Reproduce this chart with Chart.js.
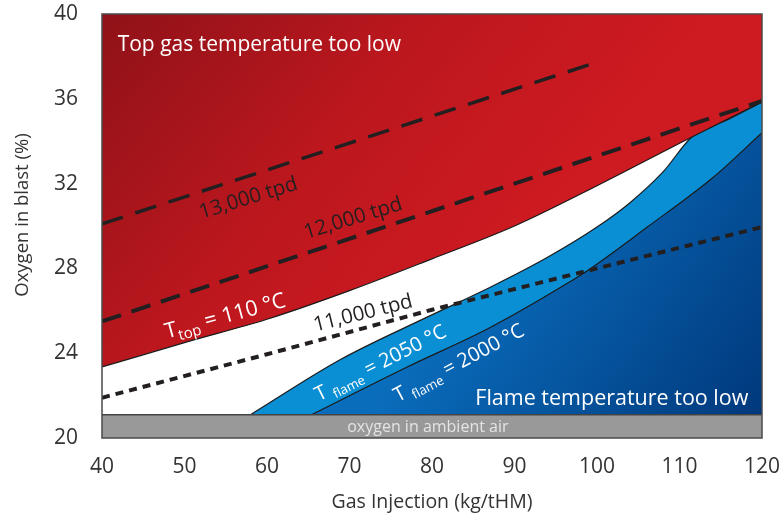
<!DOCTYPE html>
<html>
<head>
<meta charset="utf-8">
<script src="https://cdn.jsdelivr.net/npm/chart.js@4.4.1/dist/chart.umd.min.js"></script>
<style>
  html, body { margin: 0; padding: 0; background: #fff; }
</style>
</head>
<body>
<canvas id="chart" width="783" height="521"></canvas>
<script>
// axis ticks
const xTicks = [40, 50, 60, 70, 80, 90, 100, 110, 120];
const yTicks = [20, 24, 28, 32, 36, 40];

// T_top = 110 °C boundary (red region above it)
const topX = [40, 50, 60, 70, 80, 90, 100, 111.5, 120];
const topY = [23.35, 24.5, 25.6, 26.95, 28.45, 30.0, 31.9, 34.2, 35.85];

// T_flame = 2050 °C boundary (light blue below it)
const flame2050X = [58.0, 68.8, 79.4, 87.0, 93.9, 100, 104, 108, 111.5, 116, 120];
const flame2050Y = [21.1, 23.68, 25.7, 27.1, 28.5, 29.95, 31.1, 32.55, 34.2, 35.05, 35.85];

// T_flame = 2000 °C boundary (dark blue below it)
const flame2000X = [65.4, 77.0, 87.0, 96.0, 99.5, 106.1, 114.1, 120];
const flame2000Y = [21.1, 23.35, 25.2, 27.2, 28.07, 29.95, 32.3, 34.4];

// production lines
const tpd13X = [40, 99];
const tpd13Y = [30.1, 37.6];
const tpd12X = [40, 120];
const tpd12Y = [25.5, 35.9];
const tpd11X = [40, 60, 80, 100, 120];
const tpd11Y = [21.9, 23.95, 26.05, 28.0, 29.95];

// oxygen in ambient air
const airX = [40, 120];
const airY = [21.1, 21.1];

const FONT = '"Open Sans", sans-serif';
const pts = (xs, ys) => xs.map((x, i) => ({ x: x, y: ys[i] }));

function redFill(context) {
  const chart = context.chart;
  const a = chart.chartArea;
  if (!a) return '#c4181f';
  const g = chart.ctx.createLinearGradient(a.left, a.top, a.left + 360, a.top + 300);
  g.addColorStop(0, '#8f1218');
  g.addColorStop(0.55, '#bd171e');
  g.addColorStop(1, '#ce1a21');
  return g;
}

function blueFill(context) {
  const chart = context.chart;
  const a = chart.chartArea;
  if (!a) return '#0057a3';
  const g = chart.ctx.createLinearGradient(a.left + 380, a.top + 230, a.right, a.bottom);
  g.addColorStop(0, '#0a6dbc');
  g.addColorStop(1, '#003679');
  return g;
}

// texts drawn on the plot
const labels = [
  { x: 41.9, y: 38.63, align: 'left', angle: 0, color: '#fff', parts: [{ t: 'Top gas temperature too low', size: 21 }] },
  { x: 101.8, y: 21.93, angle: 0, color: '#fff', parts: [{ t: 'Flame temperature too low', size: 21.5 }] },
  { x: 79.5, y: 20.57, angle: 0, color: '#e4e4e4', parts: [{ t: 'oxygen in ambient air', size: 16 }] },
  { x: 57.7, y: 31.37, angle: -17, color: '#231f20', parts: [{ t: '13,000 tpd', size: 20.5 }] },
  { x: 70.4, y: 30.42, angle: -17, color: '#231f20', parts: [{ t: '12,000 tpd', size: 20.5 }] },
  { x: 71.6, y: 25.94, angle: -14, color: '#231f20', parts: [{ t: '11,000 tpd', size: 20.5 }] },
  { x: 54.9, y: 25.8, angle: -15, color: '#fff', parts: [{ t: 'T', size: 21.5 }, { t: 'top', size: 15, dy: 5 }, { t: ' = 110 °C', size: 21.5 }] },
  { x: 73.7, y: 23.58, angle: -27, color: '#fff', parts: [{ t: 'T ', size: 20 }, { t: 'flame', size: 13, dy: 5 }, { t: ' = 2050 °C', size: 20 }] },
  { x: 83.2, y: 23.58, angle: -28, color: '#fff', parts: [{ t: 'T ', size: 20 }, { t: 'flame', size: 13, dy: 5 }, { t: ' = 2000 °C', size: 20 }] }
];

const plotText = {
  id: 'plotText',
  afterDatasetsDraw(chart) {
    const c = chart.ctx;
    const xs = chart.scales.x, ys = chart.scales.y;
    labels.forEach(l => {
      c.save();
      c.translate(xs.getPixelForValue(l.x), ys.getPixelForValue(l.y));
      c.rotate(l.angle * Math.PI / 180);
      c.fillStyle = l.color;
      c.textBaseline = 'alphabetic';
      let w = 0;
      l.parts.forEach(p => { c.font = p.size + 'px ' + FONT; p.w = c.measureText(p.t).width; w += p.w; });
      let cx = l.align === 'left' ? 0 : -w / 2;
      const base = l.parts[0].size * 0.36;
      l.parts.forEach(p => {
        c.font = p.size + 'px ' + FONT;
        c.fillText(p.t, cx, base + (p.dy || 0));
        cx += p.w;
      });
      c.restore();
    });
    // frame
    const a = chart.chartArea;
    c.save();
    c.strokeStyle = '#4a4a4a';
    c.lineWidth = 1.5;
    c.strokeRect(a.left, a.top, a.right - a.left, a.bottom - a.top);
    // y axis title
    c.translate(23, 215);
    c.rotate(-Math.PI / 2);
    c.fillStyle = '#333';
    c.font = '18.5px ' + FONT;
    c.textAlign = 'center';
    c.textBaseline = 'middle';
    c.fillText('Oxygen in blast (%)', 0, 0);
    c.restore();
  }
};

const base = { pointRadius: 0, tension: 0 };

new Chart(document.getElementById('chart'), {
  type: 'line',
  data: {
    datasets: [
      Object.assign({}, base, { data: pts(tpd11X, tpd11Y), borderColor: '#231f20', borderWidth: 4, borderDash: [8, 6], fill: false, order: 1 }),
      Object.assign({}, base, { data: pts(tpd12X, tpd12Y), borderColor: '#231f20', borderWidth: 4, borderDash: [20, 11], fill: false, order: 2 }),
      Object.assign({}, base, { data: pts(tpd13X, tpd13Y), borderColor: '#231f20', borderWidth: 3.5, borderDash: [22, 13], fill: false, order: 3 }),
      Object.assign({}, base, { data: pts(airX, airY), borderColor: '#444', borderWidth: 1.5, backgroundColor: '#999999', fill: 'start', order: 4 }),
      Object.assign({}, base, { data: pts(topX, topY), borderColor: '#1a1a1a', borderWidth: 1.2, backgroundColor: redFill, fill: 'end', cubicInterpolationMode: 'monotone', order: 5 }),
      Object.assign({}, base, { data: pts(flame2000X, flame2000Y), borderColor: '#1a1a1a', borderWidth: 1.2, backgroundColor: blueFill, fill: 'start', cubicInterpolationMode: 'monotone', order: 6 }),
      Object.assign({}, base, { data: pts(flame2050X, flame2050Y), borderColor: '#1a1a1a', borderWidth: 1.2, backgroundColor: '#0a8fd4', fill: 'start', cubicInterpolationMode: 'monotone', order: 7 })
    ]
  },
  options: {
    responsive: false,
    animation: false,
    layout: { padding: { top: 14, right: 21, left: 0, bottom: 0 } },
    plugins: {
      legend: { display: false },
      tooltip: { enabled: false }
    },
    scales: {
      x: {
        type: 'linear',
        min: 40,
        max: 120,
        afterBuildTicks: s => { s.ticks = xTicks.map(v => ({ value: v })); },
        afterFit: s => { s.height = 83; s.paddingLeft = 0; s.paddingRight = 0; },
        grid: { display: false, drawTicks: false },
        border: { display: false },
        ticks: { padding: 16, color: '#333', font: { family: FONT, size: 21 } },
        title: { display: true, text: 'Gas Injection (kg/tHM)', color: '#333', padding: { top: 0, bottom: 7 }, font: { family: FONT, size: 19.5 } }
      },
      y: {
        min: 20,
        max: 40,
        afterBuildTicks: s => { s.ticks = yTicks.map(v => ({ value: v })); },
        afterFit: s => { s.width = 102; s.paddingTop = 0; s.paddingBottom = 0; },
        grid: { display: false, drawTicks: false },
        border: { display: false },
        ticks: { padding: 24, color: '#333', font: { family: FONT, size: 21 } },
        title: { display: false }
      }
    }
  },
  plugins: [plotText]
});
</script>
</body>
</html>
